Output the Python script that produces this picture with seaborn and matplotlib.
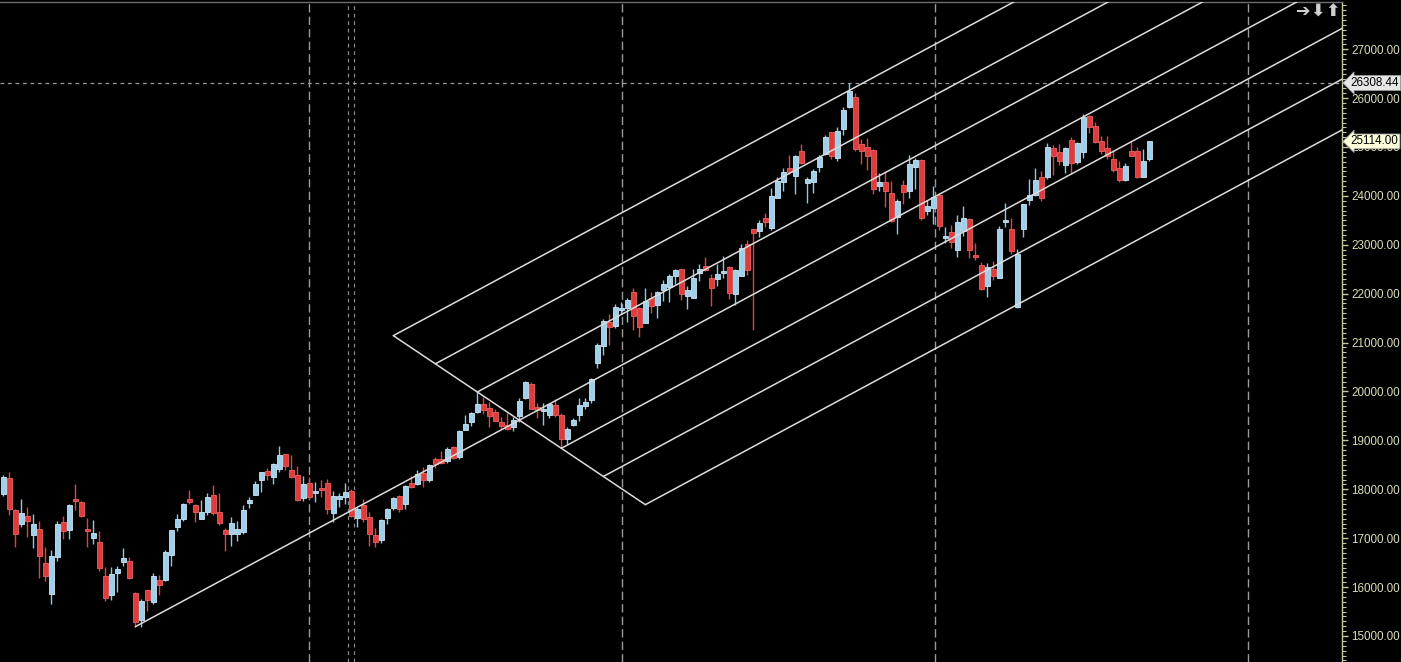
import numpy as np
import pandas as pd
import matplotlib
matplotlib.use('Agg')
import matplotlib.pyplot as plt
import matplotlib.transforms as mtransforms
from matplotlib.ticker import MultipleLocator, FormatStrFormatter
import seaborn as sns

# daily candles (oldest first)
opens = [17904, 18231, 17576, 17297, 17454, 17072, 17188, 16493, 15865, 16622, 17331, 17174, 17801, 17740, 17188, 17011, 16922, 16227, 15845, 16295,
         16520, 16533, 15879, 15327, 15940, 15702, 16145, 16152, 16663, 17236, 17392, 17801, 17679, 17399, 17542, 17883, 17535, 17167, 17092, 17092,
         17133, 17726, 17890, 18197, 18374, 18244, 18422, 18722, 18394, 18292, 17829, 18129, 17931, 18026, 18129, 17522, 17808, 17849, 17965, 17420,
         17679, 17433, 17065, 16970, 17420, 17624, 17863, 17706, 18129, 18108, 18333, 18197, 18619, 18619, 18578, 18865, 18667, 19219, 19383, 19581,
         19744, 19662, 19581, 19376, 19315, 19281, 19506, 19874, 20153, 19683, 19608, 19526, 19724, 19519, 19035, 19322, 19526, 19710, 19833, 20589,
         20937, 21428, 21339, 21666, 21714, 22034, 21714, 21407, 21905, 21775, 22075, 22137, 22362, 22505, 21960, 21919, 22423, 22566, 22321, 22300,
         22423, 22546, 22000, 22362, 23016, 23323, 23289, 23548, 23350, 23964, 24291, 24570, 24413, 24918, 24270, 24291, 24598, 24863, 25307, 24782,
         25375, 25825, 26022, 25061, 25000, 24938, 24209, 24284, 24059, 23575, 24223, 24107, 24598, 24734, 23698, 23759, 24018, 23146, 23262, 22900,
         23289, 23527, 22798, 22587, 22164, 22505, 22328, 23473, 23323, 21734, 23330, 23923, 24025, 24386, 24393, 24979, 24897, 24638, 25143, 24700,
         24904, 25634, 25429, 25122, 24979, 24754, 24570, 24332, 24918, 24918, 24393, 24761]
highs = [18292, 18354, 17597, 17795, 17638, 17495, 17352, 16820, 16758, 17352, 17454, 17699, 18108, 17760, 17413, 17372, 17147, 16411, 16411, 16431,
         16799, 16615, 15899, 15756, 15940, 16288, 16247, 16758, 17167, 17495, 17720, 17985, 17699, 17781, 17924, 18088, 17924, 17208, 17433, 17352,
         17679, 17849, 18170, 18354, 18435, 18538, 18885, 18722, 18701, 18476, 18272, 18251, 18149, 18190, 18210, 17965, 17924, 18129, 18006, 17638,
         17801, 17535, 17208, 17392, 17617, 17842, 17883, 18088, 18272, 18394, 18456, 18517, 18660, 18783, 18865, 18885, 19212, 19519, 19581, 19990,
         19887, 19792, 19642, 19478, 19560, 19478, 19867, 20215, 20194, 19765, 19758, 19765, 19846, 19560, 19274, 19458, 19867, 19867, 20276, 20998,
         21482, 21585, 21789, 21830, 21912, 22116, 21728, 22116, 22034, 22055, 22280, 22403, 22505, 22505, 22157, 22505, 22607, 22750, 22403, 22607,
         22771, 22566, 22505, 23016, 23098, 23323, 23507, 23650, 24161, 24386, 24570, 24836, 24836, 25061, 24386, 24550, 24836, 25245, 25307, 25409,
         25818, 26308.44, 26104, 25163, 25184, 24959, 24468, 24509, 24304, 23936, 24332, 24836, 24782, 24754, 23916, 24202, 24059, 23371, 23405, 23609,
         23793, 23548, 23037, 22655, 22628, 22668, 23384, 23855, 23548, 22914, 23834, 24345, 24570, 24509, 25082, 25041, 25061, 25000, 25204, 25102,
         25675, 25654, 25511, 25225, 25225, 24938, 24713, 24673, 25122, 25000, 24959, 25122]
lows = [17863, 17481, 16827, 17236, 17031, 16806, 16193, 16131, 15661, 16540, 16990, 16990, 17576, 17440, 16827, 16888, 16336, 15722, 15743, 15906,
        16438, 16172, 15190, 15190, 15518, 15661, 15845, 16131, 16438, 17154, 17358, 17699, 17338, 17386, 17481, 17481, 17276, 16745, 16847, 16949,
        17092, 17617, 17890, 17951, 18197, 18115, 18360, 18401, 18238, 17767, 17767, 17781, 17740, 17849, 17495, 17338, 17645, 17699, 17433, 17236,
        17338, 16847, 16826, 16908, 17297, 17583, 17535, 17604, 18026, 18088, 18054, 18156, 18442, 18524, 18544, 18619, 18626, 19219, 19301, 19560,
        19547, 19281, 19390, 19233, 19219, 19199, 19383, 19853, 19635, 19465, 19322, 19465, 19485, 18838, 18919, 19301, 19403, 19649, 19771, 20487,
        20753, 20957, 21298, 21585, 21428, 21264, 21121, 21407, 21612, 21510, 21857, 21837, 22205, 21878, 21694, 21919, 22266, 22464, 21755, 22157,
        22328, 21898, 21775, 22362, 22382, 21257, 23166, 23364, 23309, 23964, 24107, 24454, 24045, 24659, 23861, 24066, 24495, 24843, 24761, 24720,
        25252, 25804, 24925, 24659, 24536, 24045, 24107, 23780, 23473, 23227, 23841, 23964, 24148, 23507, 23616, 23432, 23309, 23043, 22941, 22757,
        23186, 22737, 22696, 22082, 21939, 22287, 22328, 23371, 22818, 21714, 23166, 23820, 24005, 23902, 24352, 24434, 24638, 24475, 24454, 24659,
        24782, 25293, 25088, 24863, 24761, 24495, 24291, 24311, 24823, 24373, 24393, 24720]
closes = [18244, 17604, 17092, 17515, 17358, 17290, 16643, 16233, 16636, 17290, 17154, 17679, 17760, 17461, 17154, 17106, 16397, 15784, 16268, 16370,
          16595, 16193, 15293, 15715, 15743, 16227, 16049, 16718, 17167, 17392, 17699, 17747, 17542, 17535, 17842, 17515, 17317, 17092, 17311, 17188,
          17576, 17781, 18108, 18354, 18299, 18517, 18701, 18483, 18258, 17781, 18108, 17849, 17965, 17985, 17597, 17863, 17863, 17945, 17460, 17597,
          17392, 17092, 16929, 17372, 17597, 17822, 17597, 18067, 18047, 18313, 18197, 18497, 18524, 18538, 18824, 18647, 19192, 19335, 19560, 19744,
          19628, 19506, 19403, 19301, 19240, 19417, 19806, 20194, 19649, 19628, 19642, 19744, 19526, 19035, 19233, 19417, 19724, 19785, 20255, 20951,
          21441, 21326, 21728, 21707, 21871, 21551, 21326, 21850, 21755, 22034, 22198, 22362, 22484, 22000, 22075, 22321, 22505, 22484, 22123, 22403,
          22464, 22014, 22484, 22928, 22484, 23248, 23446, 23473, 23998, 24304, 24488, 24495, 24816, 24679, 24345, 24509, 24795, 25204, 24823, 25327,
          25756, 26145, 24966, 24925, 24823, 24148, 24284, 24107, 23486, 23895, 24086, 24652, 24734, 23555, 23793, 23977, 23391, 23186, 23064, 23466,
          23548, 22900, 22757, 22102, 22546, 22368, 23323, 23507, 22880, 22811, 23834, 24018, 24325, 23964, 25000, 24823, 24720, 24979, 24679, 25082,
          25613, 25416, 25109, 24925, 24823, 24536, 24332, 24611, 24823, 24393, 24713, 25114]

# Andrews pitchfork: pivot low, reaction high, reaction low (bar numbers) and extra levels
pf_bars = [22, 79, 93]
pf_levels = [-1.5, -1.0, -0.5, 0.0, 0.5, 1.0, 1.5]

# vertical period separators (bar positions) and y ticks
separators = [51, 103.17, 155.33, 207.5]
separators_light = [57.5, 58.5]
y_ticks = list(range(15000, 28000, 1000))

df = pd.DataFrame({'open': opens, 'high': highs, 'low': lows, 'close': closes})
df['bar'] = np.arange(len(df))
df['up'] = df['close'] >= df['open']
df['body_lo'] = df[['open', 'close']].min(axis=1)
df['body_h'] = (df['close'] - df['open']).abs().clip(lower=30)

sns.set_theme(style='dark', rc={'axes.facecolor': 'black', 'figure.facecolor': 'black',
                                'savefig.facecolor': 'black'})
plt.rcParams['font.family'] = ['Liberation Sans', 'DejaVu Sans']

W, H = 1401, 662
fig = plt.figure(figsize=(W / 100, H / 100), dpi=100)
ax = fig.add_axes([0, 0, 1342 / W, 660 / H])
ax.set_facecolor('black')

UP_FILL, UP_EDGE, UP_WICK = '#9fcfe9', '#cbe7f6', '#8cc6e8'
DN_FILL, DN_EDGE, DN_WICK = '#dc3c3c', '#f06262', '#e04444'

# grid separators
for x in separators:
    ax.axvline(x, color='#9a9a9a', lw=1, ls=(0, (6, 3)), zorder=1)
for x in separators_light:
    ax.axvline(x, color='#8a8a8a', lw=0.9, ls=(0, (3, 3)), zorder=1)
max_high = df['high'].max()
ax.axhline(max_high, color='#9a9a9a', lw=0.9, ls=(0, (3, 3)), zorder=1)

# candles
up = df[df['up']]
dn = df[~df['up']]
ax.vlines(up['bar'], up['low'], up['high'], colors=UP_WICK, lw=1, zorder=2)
ax.vlines(dn['bar'], dn['low'], dn['high'], colors=DN_WICK, lw=1, zorder=2)
ax.bar(up['bar'], up['body_h'], bottom=up['body_lo'], width=0.75,
       color=UP_FILL, edgecolor=UP_EDGE, lw=0.6, zorder=3)
ax.bar(dn['bar'], dn['body_h'], bottom=dn['body_lo'], width=0.75,
       color=DN_FILL, edgecolor=DN_EDGE, lw=0.6, zorder=3)

# pitchfork
a_i, b_i, c_i = pf_bars
A = (a_i, lows[a_i])
B = (b_i, highs[b_i])
C = (c_i, lows[c_i])
M = ((B[0] + C[0]) / 2, (B[1] + C[1]) / 2)
D = (C[0] - B[0], C[1] - B[1])
slope = (M[1] - A[1]) / (M[0] - A[0])
x_end = 260
line_col = '#dcdcdc'
for s in pf_levels:
    if s == 0:
        x0, y0 = A
    else:
        x0, y0 = M[0] + s * D[0], M[1] + s * D[1]
    ax.plot([x0, x_end], [y0, y0 + slope * (x_end - x0)], color=line_col, lw=1.1, zorder=4)
s0, s1 = min(pf_levels), max(pf_levels)
ax.plot([M[0] + s0 * D[0], M[0] + s1 * D[0]], [M[1] + s0 * D[1], M[1] + s1 * D[1]],
        color=line_col, lw=1.1, zorder=4)

# axes
ax.set_xlim(-0.55, 223.1)
ax.set_ylim(14468, 27965)
ax.set_xticks([])
ax.yaxis.tick_right()
ax.set_yticks(y_ticks)
ax.yaxis.set_minor_locator(MultipleLocator(100))
ax.yaxis.set_major_formatter(FormatStrFormatter('%.2f'))
ax.tick_params(axis='y', which='major', right=True, left=False, labelright=True, labelleft=False,
               direction='out', length=4.5, width=1, color='#c8c8a0', labelcolor='#dcdcb8',
               labelsize=8.4, pad=2)
ax.tick_params(axis='y', which='minor', right=True, left=False, direction='out',
               length=3, width=0.8, color='#c8c8a0')
for side in ['left', 'bottom']:
    ax.spines[side].set_visible(False)
ax.spines['right'].set_color('#c8c8a0')
ax.spines['right'].set_linewidth(1)
ax.spines['top'].set_color('#6e6e6e')
ax.spines['top'].set_linewidth(1)
ax.grid(False)

# price tags
trans = mtransforms.blended_transform_factory(ax.transAxes, ax.transData)
last_close = df['close'].iloc[-1]
for val, fc in [(max_high, '#e6e6e6'), (last_close, '#ffffdc')]:
    ax.annotate(f'{val:.2f}', xy=(1, val), xycoords=trans, xytext=(6.3, 0),
                textcoords='offset points', ha='left', va='center', fontsize=8.4,
                color='black', annotation_clip=False, zorder=10,
                bbox=dict(boxstyle='larrow,pad=0.12', fc=fc, ec='#a0a0a0', lw=0.6))

# toolbar arrows top right
for xp, sym in [(1303, '➔'), (1318, '⬇'), (1333, '⬆')]:
    fig.text(xp / W, 1 - 11 / H, sym, ha='center', va='center', fontsize=12.5,
             color='#d0d0d0', family=['DejaVu Sans'], fontweight='bold')

fig.savefig('out.png', dpi=100, facecolor='black')
